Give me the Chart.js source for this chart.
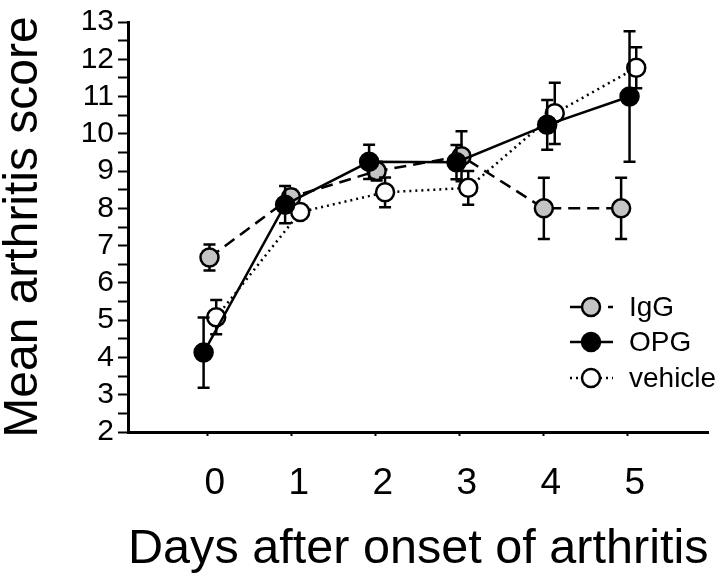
<!DOCTYPE html>
<html lang="en">
<head>
    <meta charset="UTF-8">
    <title>Mean arthritis score</title>
    <script src="https://cdn.jsdelivr.net/npm/chart.js"></script>
    <style>
        body { margin: 0; background: #fff; }
        #wrap { width: 720px; height: 585px; }
    </style>
</head>
<body>
    <div id="wrap"><canvas id="myChart" width="720" height="585"></canvas></div>
    <script>
        // data (x in days, points are slightly offset per group)
        const days = [0, 1, 2, 3, 4, 5];
        const seriesNames = ['IgG', 'OPG', 'vehicle'];

        const iggX = [0.02, 0.99, 2.01, 3.02, 4.0, 4.92];
        const iggY = [6.68, 8.3, 9.0, 9.4, 8.0, 8.0];
        const iggErr = [0.35, 0.2, 0.25, 0.67, 0.82, 0.82];

        const opgX = [-0.05, 0.92, 1.92, 2.96, 4.04, 5.02];
        const opgY = [4.13, 8.1, 9.25, 9.24, 10.24, 11.0];
        const opgErr = [0.94, 0.5, 0.46, 0.46, 0.67, 1.75];

        const vehX = [0.1, 1.1, 2.11, 3.1, 4.13, 5.1];
        const vehY = [5.08, 7.9, 8.43, 8.55, 10.55, 11.77];
        const vehErr = [0.46, 0.15, 0.4, 0.45, 0.82, 0.55];

        const FONT = '"Liberation Sans", Arial, Helvetica, sans-serif';

        function pts(xs, ys) {
            return xs.map((x, i) => ({ x: x, y: ys[i] }));
        }

        // error bars, drawn just before each dataset so the markers sit on top
        const errorBars = {
            id: 'errorBars',
            beforeDatasetDraw(chart, args) {
                const ds = chart.data.datasets[args.index];
                const xs = chart.scales.x, ys = chart.scales.y;
                const ctx = chart.ctx;
                ctx.save();
                ctx.strokeStyle = '#000';
                ctx.lineWidth = 2.5;
                ctx.setLineDash([]);
                ds.data.forEach((p, i) => {
                    const e = ds.errors[i];
                    const px = xs.getPixelForValue(p.x);
                    const top = ys.getPixelForValue(p.y + e);
                    const bot = ys.getPixelForValue(p.y - e);
                    ctx.beginPath();
                    ctx.moveTo(px, top); ctx.lineTo(px, bot);
                    ctx.moveTo(px - 6, top); ctx.lineTo(px + 6, top);
                    ctx.moveTo(px - 6, bot); ctx.lineTo(px + 6, bot);
                    ctx.stroke();
                });
                ctx.restore();
            }
        };

        // legend in the lower right of the plot
        const legendBox = {
            id: 'legendBox',
            afterDraw(chart) {
                const ctx = chart.ctx;
                const rowY = [307, 342, 378];
                chart.data.datasets.forEach((ds, i) => {
                    const y = rowY[i];
                    ctx.save();
                    ctx.strokeStyle = '#000';
                    ctx.lineWidth = ds.borderWidth;
                    ctx.setLineDash(ds.borderDash || []);
                    ctx.beginPath();
                    ctx.moveTo(570, y); ctx.lineTo(613, y);
                    ctx.stroke();
                    ctx.setLineDash([]);
                    ctx.beginPath();
                    ctx.arc(591, y, ds.pointRadius, 0, Math.PI * 2);
                    ctx.fillStyle = ds.pointBackgroundColor;
                    ctx.fill();
                    ctx.lineWidth = ds.pointBorderWidth;
                    ctx.stroke();
                    ctx.fillStyle = '#000';
                    ctx.font = '28px ' + FONT;
                    ctx.textBaseline = 'middle';
                    ctx.fillText(ds.label, 629, y + 1);
                    ctx.restore();
                });
            }
        };

        const ctx = document.getElementById('myChart').getContext('2d');
        new Chart(ctx, {
            type: 'line',
            data: {
                datasets: [{
                    label: seriesNames[0],
                    data: pts(iggX, iggY),
                    errors: iggErr,
                    borderColor: '#000',
                    borderWidth: 2.5,
                    borderDash: [12, 7],
                    pointRadius: 9,
                    pointBorderWidth: 2.5,
                    pointBorderColor: '#000',
                    pointBackgroundColor: '#c4c4c4',
                    order: 2
                }, {
                    label: seriesNames[1],
                    data: pts(opgX, opgY),
                    errors: opgErr,
                    borderColor: '#000',
                    borderWidth: 2.5,
                    pointRadius: 9,
                    pointBorderWidth: 2.5,
                    pointBorderColor: '#000',
                    pointBackgroundColor: '#000',
                    order: 0
                }, {
                    label: seriesNames[2],
                    data: pts(vehX, vehY),
                    errors: vehErr,
                    borderColor: '#000',
                    borderWidth: 2.5,
                    borderDash: [2, 4],
                    pointRadius: 9,
                    pointBorderWidth: 2.5,
                    pointBorderColor: '#000',
                    pointBackgroundColor: '#fff',
                    order: 1
                }]
            },
            options: {
                responsive: false,
                animation: false,
                layout: { padding: { top: 18, right: 11, bottom: 0, left: 0 } },
                plugins: {
                    legend: { display: false },
                    tooltip: { enabled: false }
                },
                scales: {
                    x: {
                        type: 'linear',
                        min: -0.95,
                        max: 5.96,
                        afterBuildTicks: (s) => { s.ticks = days.map(v => ({ value: v })); },
                        afterFit: (s) => { s.height = 153; },
                        border: { display: true, color: '#000', width: 3 },
                        grid: { drawOnChartArea: false, color: '#000', tickLength: 4, tickWidth: 2 },
                        ticks: {
                            color: '#000',
                            font: { family: FONT, size: 37 },
                            padding: 26,
                            labelOffset: 7,
                            autoSkip: false,
                            maxRotation: 0
                        },
                        title: {
                            display: true,
                            text: 'Days after onset of arthritis',
                            color: '#000',
                            font: { family: FONT, size: 49 },
                            padding: { top: 0, bottom: 6 }
                        }
                    },
                    y: {
                        min: 2,
                        max: 13,
                        afterFit: (s) => { s.width = 128; },
                        border: { display: true, color: '#000', width: 3 },
                        grid: { drawOnChartArea: false, color: '#000', tickLength: 10, tickWidth: 2 },
                        ticks: {
                            stepSize: 0.5,
                            autoSkip: false,
                            color: '#000',
                            padding: 4,
                            font: { family: FONT, size: 30 },
                            callback: (v) => Number.isInteger(v) ? v : ''
                        },
                        title: {
                            display: true,
                            text: 'Mean arthritis score',
                            color: '#000',
                            font: { family: FONT, size: 48, lineHeight: 1.0 },
                            padding: 0
                        }
                    }
                }
            },
            plugins: [errorBars, legendBox]
        });
    </script>
</body>
</html>
